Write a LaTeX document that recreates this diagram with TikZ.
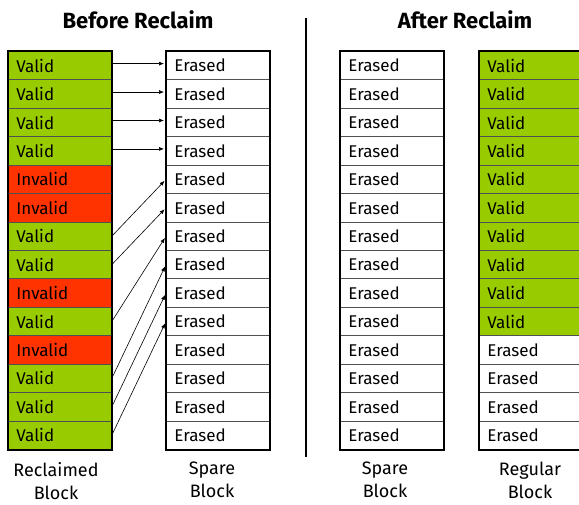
\documentclass[tikz,border=0pt]{standalone}
\usepackage{fontspec}
\setmainfont{Fira Sans}
\usetikzlibrary{arrows.meta}
\definecolor{validgreen}{HTML}{99CC00}
\definecolor{invalidred}{HTML}{FF3300}
\definecolor{rowrule}{HTML}{505050}

\begin{document}
\begin{tikzpicture}[x=1pt,y=-1pt,
  cell/.style={draw=rowrule, line width=0.8pt, inner xsep=8pt, inner ysep=0pt,
    text width=87pt, minimum height=28.43pt, align=left, anchor=north west,
    font=\fontsize{17}{20}\selectfont},
  frame/.style={draw=black, line width=1.8pt},
  conn/.style={-{Latex[length=5pt,width=4pt]}, line width=0.6pt, shorten >=2pt},
  title/.style={font=\fontsize{22}{26}\selectfont\bfseries, inner sep=0pt},
  blocklabel/.style={font=\fontsize{18}{23}\selectfont, align=center, anchor=north, inner sep=0pt}
]
\useasboundingbox (0,0) rectangle (579,504);
\clip (0,0) rectangle (579,504);

% headings
\node[title] (before) at (138,20) {Before Reclaim};
\node[title] (after) at (465,20) {After Reclaim};

% block being reclaimed
\foreach [count=\i] \c/\t in {validgreen/Valid,validgreen/Valid,validgreen/Valid,validgreen/Valid,
    invalidred/Invalid,invalidred/Invalid,validgreen/Valid,validgreen/Valid,invalidred/Invalid,
    validgreen/Valid,invalidred/Invalid,validgreen/Valid,validgreen/Valid,validgreen/Valid}
  \node[cell, fill=\c] (L\i) at (8, {51+(\i-1)*28.43}) {\t};

% spare block before reclaim
\foreach \i in {1,...,14}
  \node[cell, fill=white] (S\i) at (166, {51+(\i-1)*28.43}) {Erased};

% spare block after reclaim
\foreach \i in {1,...,14}
  \node[cell, fill=white] (T\i) at (340, {51+(\i-1)*28.43}) {Erased};

% regular block after reclaim
\foreach [count=\i] \c/\t in {validgreen/Valid,validgreen/Valid,validgreen/Valid,validgreen/Valid,
    validgreen/Valid,validgreen/Valid,validgreen/Valid,validgreen/Valid,validgreen/Valid,
    validgreen/Valid,white/Erased,white/Erased,white/Erased,white/Erased}
  \node[cell, fill=\c] (R\i) at (479, {51+(\i-1)*28.43}) {\t};

% block outlines
\draw[frame] (L1.north west) rectangle (L14.south east);
\draw[frame] (S1.north west) rectangle (S14.south east);
\draw[frame] (T1.north west) rectangle (T14.south east);
\draw[frame] (R1.north west) rectangle (R14.south east);

% copies of the valid pages
\foreach \i in {1,...,4}
  \draw[conn] ([yshift=2pt]L\i.east) -- ([yshift=2pt]S\i.west);
\foreach \a/\b in {7/5,8/6,10/7,12/8,13/9,14/10}
  \draw[conn] (L\a.east) -- (S\b.west);

% divider between the two states
\coordinate (dtop) at (306,18);
\coordinate (dbot) at (306,457);
\draw[line width=2pt] (dtop) -- (dbot);

% block captions
\node[blocklabel] (capL) at (56,462) {Reclaimed\\Block};
\node[blocklabel] (capS) at (212,462) {Spare\\Block};
\node[blocklabel] (capT) at (385,462) {Spare\\Block};
\node[blocklabel] (capR) at (530,462) {Regular\\Block};
\end{tikzpicture}
\end{document}
